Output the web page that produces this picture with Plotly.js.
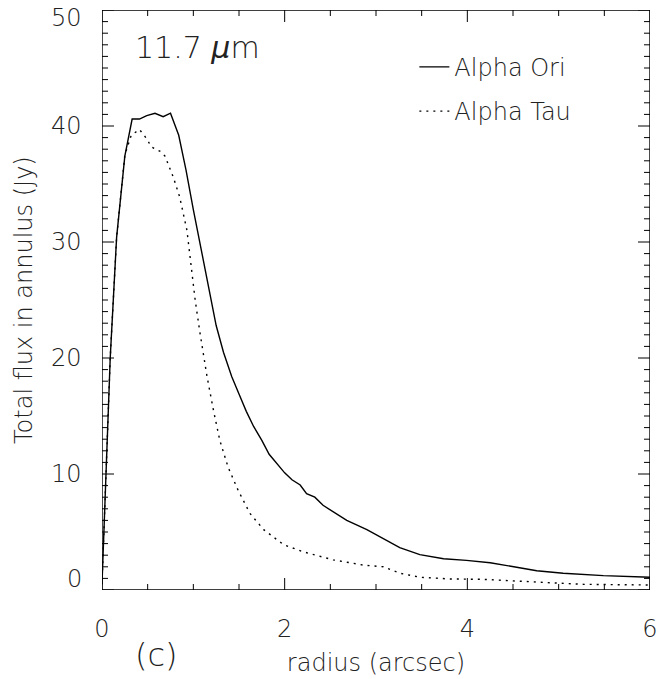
<!DOCTYPE html>
<html>
<head>
<meta charset="utf-8">
<script src="https://cdn.plot.ly/plotly-3.0.1.min.js"></script>
<style>html,body{margin:0;padding:0;background:#fff;}#chart{width:660px;height:679px;}</style>
</head>
<body>
<div id="chart"></div>
<script>
// Alpha Ori (solid)
const oriRadius = [0, 0.09, 0.16, 0.25, 0.33, 0.41, 0.49, 0.58, 0.67, 0.75, 0.84, 0.92, 1.0, 1.08, 1.17, 1.25, 1.33, 1.42, 1.5, 1.58, 1.66, 1.75, 1.83, 1.92, 2.0, 2.08, 2.17, 2.24, 2.33, 2.42, 2.5, 2.68, 2.9, 3.08, 3.26, 3.48, 3.74, 3.99, 4.25, 4.54, 4.76, 5.05, 5.49, 6.0];
const oriFlux   = [0.5, 20.0, 30.4, 37.4, 40.6, 40.6, 40.9, 41.1, 40.8, 41.1, 39.2, 36.2, 32.8, 29.5, 25.8, 22.8, 20.5, 18.4, 16.9, 15.4, 14.1, 12.9, 11.7, 10.8, 10.1, 9.5, 9.05, 8.3, 8.0, 7.3, 6.9, 6.0, 5.2, 4.4, 3.65, 3.05, 2.7, 2.55, 2.35, 1.96, 1.66, 1.44, 1.24, 1.1];
// Alpha Tau (dotted)
const tauRadius = [0, 0.09, 0.16, 0.25, 0.32, 0.41, 0.49, 0.54, 0.64, 0.69, 0.78, 0.85, 0.93, 0.98, 1.02, 1.07, 1.15, 1.22, 1.29, 1.38, 1.49, 1.62, 1.77, 1.99, 2.2, 2.53, 2.86, 3.08, 3.26, 3.48, 3.81, 4.17, 4.54, 4.9, 5.27, 5.64, 6.0];
const tauFlux   = [0.5, 20.0, 30.4, 37.5, 39.2, 39.7, 38.9, 38.2, 37.8, 37.4, 35.6, 33.9, 31.0, 27.5, 25.0, 22.3, 18.4, 15.5, 12.9, 10.6, 8.6, 6.6, 5.2, 3.9, 3.3, 2.6, 2.15, 2.0, 1.45, 1.1, 0.95, 0.92, 0.8, 0.63, 0.49, 0.43, 0.43];

const seriesNames = ["Alpha Ori", "Alpha Tau"];
const xTickVals = [0, 2, 4, 6];
const yTickVals = [0, 10, 20, 30, 40, 50];
const xRange = [0, 6];
const yRange = [0, 50];
const xMinorStep = 0.5;
const yMinorStep = 1;

const FONT = "DejaVu Sans, sans-serif";
const TXT = "#222";
const W = 660, H = 679, M = {l: 102, r: 10, t: 10, b: 89};
const PW = W - M.l - M.r, PH = H - M.t - M.b;

// axis frame and inward ticks on all four sides, built from the tick arrays
const frameX = [xRange[0], xRange[1], xRange[1], xRange[0], xRange[0]];
const frameY = [yRange[0], yRange[0], yRange[1], yRange[1], yRange[0]];
const tickX = [], tickY = [];
const xSpan = xRange[1] - xRange[0], ySpan = yRange[1] - yRange[0];
for (let i = 0; xRange[0] + i * xMinorStep <= xRange[1] + 1e-9; i++) {
  const v = +(xRange[0] + i * xMinorStep).toFixed(6);
  const len = (xTickVals.includes(v) ? 12 : 6) / PH * ySpan;
  tickX.push(v, v, null, v, v, null);
  tickY.push(yRange[0], yRange[0] + len, null, yRange[1], yRange[1] - len, null);
}
for (let i = 0; yRange[0] + i * yMinorStep <= yRange[1] + 1e-9; i++) {
  const v = +(yRange[0] + i * yMinorStep).toFixed(6);
  const len = (yTickVals.includes(v) ? 12 : 6) / PW * xSpan;
  tickX.push(xRange[0], xRange[0] + len, null, xRange[1], xRange[1] - len, null);
  tickY.push(v, v, null, v, v, null);
}

const traces = [
  {x: oriRadius, y: oriFlux, name: seriesNames[0], mode: "lines", legendgroup: "a",
   line: {color: "#000", width: 1.4}},
  {x: tauRadius, y: tauFlux, name: seriesNames[1], mode: "lines", legendgroup: "b",
   line: {color: "#000", width: 1.4, dash: "2px,5px"}},
  {x: tickX, y: tickY, mode: "lines", showlegend: false, hoverinfo: "skip", cliponaxis: false,
   connectgaps: false, line: {color: "#000", width: 1}},
  {x: frameX, y: frameY, mode: "lines", showlegend: false, hoverinfo: "skip", cliponaxis: false,
   line: {color: "#000", width: 1.4}}
];

// y tick labels as annotations (end labels nudged inside the figure as in the original)
const annotations = yTickVals.map(function(v) {
  return {text: String(v), xref: "paper", yref: "y", x: 0, y: v, xanchor: "right", yanchor: "middle",
          xshift: -18, yshift: v === yRange[1] ? -8 : (v === yRange[0] ? 11 : 0),
          showarrow: false, font: {family: FONT, size: 24, color: TXT, weight: 300}};
});
annotations.push(
  {text: "Total flux in annulus (Jy)", xref: "paper", yref: "paper", x: (24 - M.l) / PW, y: 0.5,
   xanchor: "center", yanchor: "middle", textangle: -90, showarrow: false,
   font: {family: FONT, size: 24, color: TXT, weight: 300}},
  {text: "11.7 <i>μ</i>m", xref: "paper", yref: "paper", x: 0.056, y: 0.936, xanchor: "left", yanchor: "middle",
   showarrow: false, font: {family: FONT, size: 30, color: TXT, weight: 300}},
  {text: "(c)", xref: "paper", yref: "paper", x: 0.1, y: -0.112, xanchor: "center", yanchor: "middle",
   showarrow: false, font: {family: FONT, size: 32, color: TXT, weight: 300}}
);

const layout = {
  width: W, height: H,
  margin: M,
  paper_bgcolor: "#fff", plot_bgcolor: "#fff",
  showlegend: true,
  legend: {x: 0.57, y: 0.94, xanchor: "left", yanchor: "top", bgcolor: "rgba(0,0,0,0)",
           font: {family: FONT, size: 24, color: TXT, weight: 300},
           traceorder: "grouped", tracegroupgap: 10, itemwidth: 30},
  xaxis: {
    range: xRange, tickmode: "array", tickvals: xTickVals,
    showgrid: false, zeroline: false, showline: false, ticks: "",
    ticklabelstandoff: 22, ticklabeloverflow: "allow",
    tickfont: {family: FONT, size: 24, color: TXT, weight: 300},
    title: {text: "radius (arcsec)", font: {family: FONT, size: 24, color: TXT, weight: 300}, standoff: 12}
  },
  yaxis: {
    range: yRange, tickmode: "array", tickvals: yTickVals,
    showgrid: false, zeroline: false, showline: false, ticks: "", showticklabels: false
  },
  annotations: annotations
};

Plotly.newPlot("chart", traces, layout, {staticPlot: true});
</script>
</body>
</html>
